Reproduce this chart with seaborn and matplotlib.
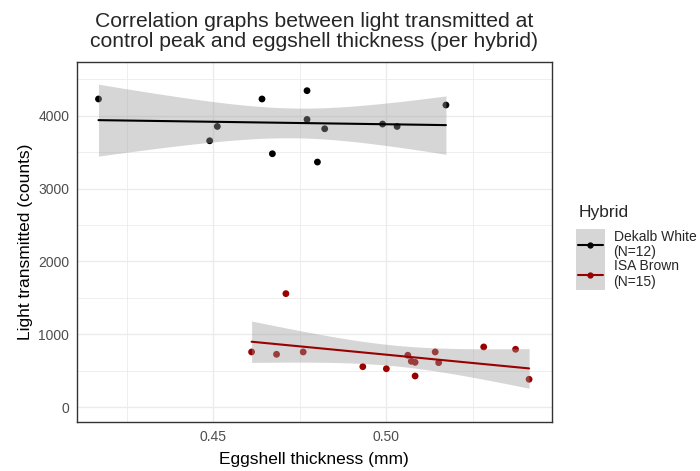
import numpy as np
import pandas as pd
import matplotlib
matplotlib.use("Agg")
import matplotlib.pyplot as plt
import seaborn as sns
from matplotlib.lines import Line2D
from matplotlib.patches import Rectangle

# ---- data ----
dekalb_x = [0.4169, 0.4490, 0.4512, 0.4641, 0.4671, 0.4771, 0.4771, 0.4801, 0.4822, 0.4989, 0.5031, 0.5172]
dekalb_y = [4230, 3656, 3853, 4230, 3478, 4344, 3949, 3364, 3821, 3886, 3853, 4147]
isa_x = [0.4611, 0.4683, 0.4710, 0.4760, 0.4932, 0.5000, 0.5062, 0.5072, 0.5083, 0.5083, 0.5141, 0.5151, 0.5281, 0.5373, 0.5412]
isa_y = [756, 724, 1557, 756, 554, 526, 711, 628, 614, 426, 756, 609, 825, 793, 381]
hybrid_labels = ["Dekalb White\n(N=12)", "ISA Brown\n(N=15)"]
hybrid_colors = ["#000000", "#990000"]
x_ticks = [0.45, 0.50]
x_tick_labels = ["0.45", "0.50"]
y_ticks = [0, 1000, 2000, 3000, 4000]
t_crit = {10: 2.228, 13: 2.160}

df = pd.DataFrame({
    "thick": dekalb_x + isa_x,
    "light": dekalb_y + isa_y,
    "Hybrid": [hybrid_labels[0]] * len(dekalb_x) + [hybrid_labels[1]] * len(isa_x),
})

sns.set_style("white")
plt.rcParams["font.family"] = ["Liberation Sans", "DejaVu Sans"]

fig = plt.figure(figsize=(7.0, 4.71), dpi=100)
ax = fig.add_axes([0.110, 0.104, 0.678, 0.765])

band_color = "#999999"
for lab, col in zip(hybrid_labels, hybrid_colors):
    sub = df[df["Hybrid"] == lab]
    x = sub["thick"].to_numpy()
    y = sub["light"].to_numpy()
    sns.scatterplot(x=x, y=y, ax=ax, color=col, s=24, edgecolor="none", zorder=2, legend=False)
    # analytic 95% confidence band for the linear fit
    n = len(x)
    b, a = np.polyfit(x, y, 1)
    resid = y - (a + b * x)
    s = np.sqrt(np.sum(resid ** 2) / (n - 2))
    xg = np.linspace(x.min(), x.max(), 100)
    yg = a + b * xg
    se = s * np.sqrt(1 / n + (xg - x.mean()) ** 2 / np.sum((x - x.mean()) ** 2))
    tc = t_crit[n - 2]
    ax.fill_between(xg, yg - tc * se, yg + tc * se, color=band_color, alpha=0.4, lw=0, zorder=3)
    sns.regplot(x=x, y=y, ax=ax, scatter=False, ci=None, color=col,
                line_kws={"lw": 1.5, "zorder": 4}, truncate=True)

ax.set_xlim(0.4107, 0.5477)
ax.set_ylim(-206, 4742)
ax.set_xticks(x_ticks)
ax.set_xticklabels(x_tick_labels)
ax.set_xticks([0.425, 0.475, 0.525], minor=True)
ax.set_yticks(y_ticks)
ax.set_yticks([500, 1500, 2500, 3500, 4500], minor=True)
ax.grid(True, which="major", color="#EBEBEB", lw=1.0, zorder=0)
ax.grid(True, which="minor", color="#EBEBEB", lw=0.6, zorder=0)
ax.set_axisbelow(True)
ax.tick_params(which="major", length=3, width=0.8, color="#333333",
               labelsize=10, labelcolor="#4D4D4D", pad=2.5)
ax.tick_params(which="minor", length=0)
for sp in ax.spines.values():
    sp.set_color("#333333")
    sp.set_linewidth(1.0)
ax.set_xlabel("Eggshell thickness (mm)", fontsize=12.5, color="black", labelpad=6)
ax.set_ylabel("Light transmitted (counts)", fontsize=12.5, color="black", labelpad=4)

fig.text(0.449, 0.975, "Correlation graphs between light transmitted at\ncontrol peak and eggshell thickness (per hybrid)",
         ha="center", va="top", fontsize=15.2, linespacing=1.05)

handles = [Line2D([], [], color=c, lw=1.5, marker="o", ms=3.5) for c in hybrid_colors]
leg = fig.legend(handles, hybrid_labels, title="Hybrid", loc="upper left",
                 bbox_to_anchor=(0.826, 0.565), frameon=False, fontsize=10,
                 title_fontsize=12.5, handlelength=1.75, handleheight=0.7,
                 labelspacing=0.05, handletextpad=0.8, alignment="left",
                 borderaxespad=0, borderpad=0)
for t in leg.get_texts():
    t.set_linespacing(1.1)
leg._legend_box.sep = 7

# grey key background behind the legend keys (as in the ggplot legend)
fig.canvas.draw()
r = fig.canvas.get_renderer()
tb = [t.get_window_extent(r) for t in leg.get_texts()]
lb = [l.get_window_extent(r) for l in leg.get_lines()]
W, H = fig.bbox.width, fig.bbox.height
kx0 = min(b.x0 for b in lb)
kx1 = max(b.x1 for b in lb)
ky0 = tb[-1].y0 - 1
ky1 = tb[0].y1 + 1
fig.add_artist(Rectangle((kx0 / W, ky0 / H), (kx1 - kx0) / W, (ky1 - ky0) / H,
                         facecolor="#D6D6D6", edgecolor="none", zorder=4.5,
                         transform=fig.transFigure))

fig.savefig("out.png", dpi=100)
